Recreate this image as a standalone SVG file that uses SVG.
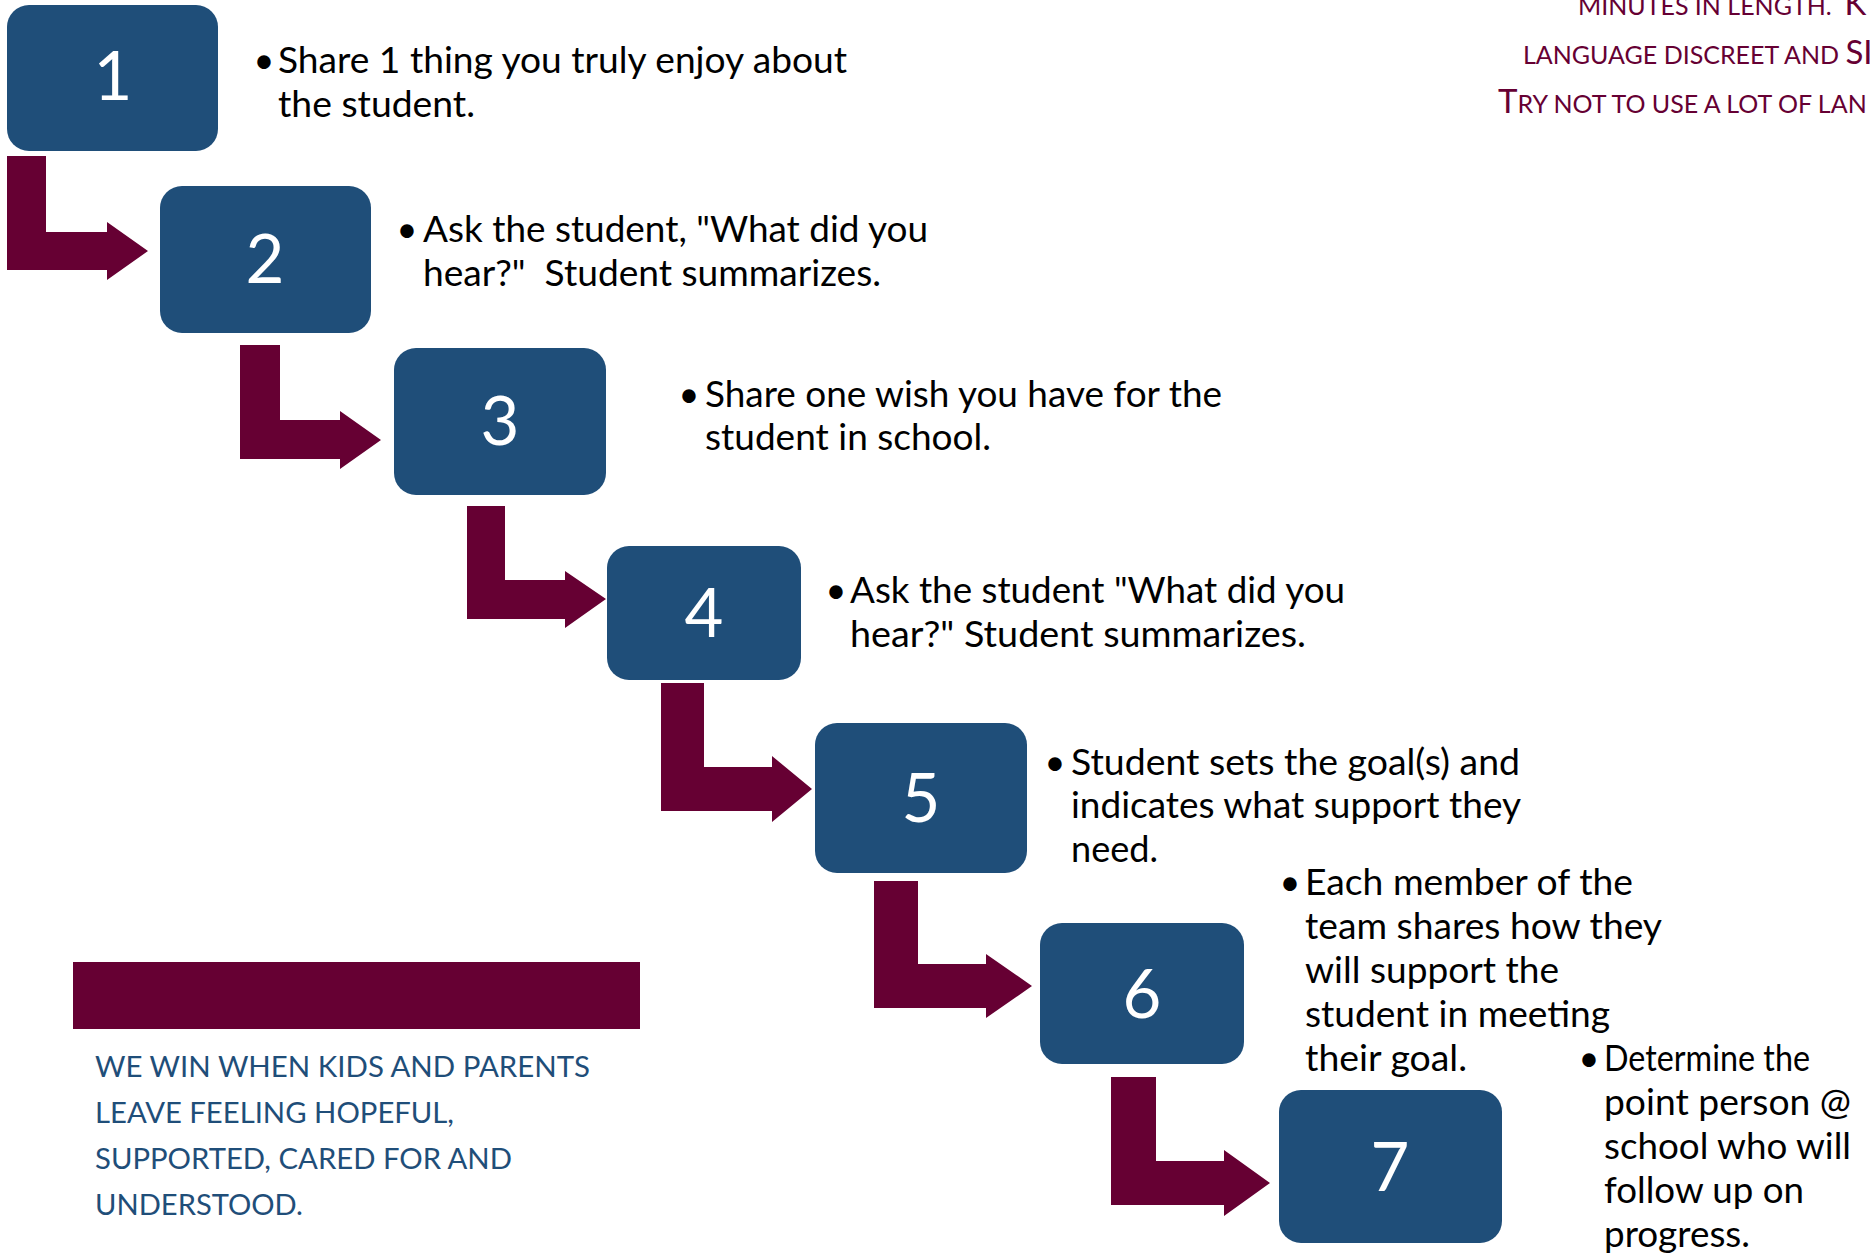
<svg xmlns="http://www.w3.org/2000/svg" width="1870" height="1256" viewBox="0 0 1870 1256">
<style>
.box{fill:#1F4E79}
.num{fill:#fff;font-family:Lato,"Open Sans",sans-serif;font-size:67px;text-anchor:middle}
.t{fill:#000;font-family:Lato,"Open Sans",sans-serif;font-size:36px;white-space:pre}
.b{fill:#000;font-family:Lato,"Open Sans",sans-serif;font-size:36px;text-anchor:middle}
.arr{fill:#660033}
.blue{fill:#1F4E79;font-family:Lato,"Open Sans",sans-serif;font-size:28px}
.mar{fill:#660033;font-family:Lato,"Open Sans",sans-serif;font-size:25px;white-space:pre}
.big{font-size:33px}
</style>
<rect width="1870" height="1256" fill="#fff"/>
<g id="connectors">
<path class="arr" d="M7,156 H46 V232 H107 V222 L148,251 L107,280 V270 H7 Z"/>
<path class="arr" d="M240,345 H280 V420 H340 V411 L381,440 L340,469 V459 H240 Z"/>
<path class="arr" d="M467,506 H505 V580 H565 V571 L606,599 L565,628 V619 H467 Z"/>
<path class="arr" d="M661,683 H704 V767 H772 V756 L812,789 L772,822 V811 H661 Z"/>
<path class="arr" d="M874,881 H918 V964 H986 V954 L1032,986 L986,1018 V1008 H874 Z"/>
<path class="arr" d="M1111,1077 H1156 V1161 H1224 V1150 L1270,1183 L1224,1216 V1205 H1111 Z"/>
</g>
<g id="node1">
<rect class="box" x="7" y="5" width="211" height="146" rx="22"/>
<text class="num" x="113" y="100">1</text>
<text class="b" x="264" y="73">•</text>
<text class="t" x="278" y="73" textLength="569" lengthAdjust="spacingAndGlyphs">Share 1 thing you truly enjoy about</text>
<text class="t" x="278" y="117" textLength="197" lengthAdjust="spacingAndGlyphs">the student.</text>
</g>
<g id="node2">
<rect class="box" x="160" y="186" width="211" height="147" rx="22"/>
<text class="num" x="265" y="283">2</text>
<text class="b" x="407" y="242">•</text>
<text class="t" x="423" y="242" textLength="505" lengthAdjust="spacingAndGlyphs">Ask the student, "What did you</text>
<text class="t" x="423" y="286" textLength="458" lengthAdjust="spacingAndGlyphs">hear?"  Student summarizes.</text>
</g>
<g id="node3">
<rect class="box" x="394" y="348" width="212" height="147" rx="22"/>
<text class="num" x="500" y="445">3</text>
<text class="b" x="689" y="407">•</text>
<text class="t" x="705" y="407" textLength="517" lengthAdjust="spacingAndGlyphs">Share one wish you have for the</text>
<text class="t" x="705" y="450" textLength="286" lengthAdjust="spacingAndGlyphs">student in school.</text>
</g>
<g id="node4">
<rect class="box" x="607" y="546" width="194" height="134" rx="22"/>
<text class="num" x="704" y="637">4</text>
<text class="b" x="836" y="603">•</text>
<text class="t" x="850" y="603" textLength="495" lengthAdjust="spacingAndGlyphs">Ask the student "What did you</text>
<text class="t" x="850" y="647" textLength="456" lengthAdjust="spacingAndGlyphs">hear?" Student summarizes.</text>
</g>
<g id="node5">
<rect class="box" x="815" y="723" width="212" height="150" rx="22"/>
<text class="num" x="921" y="822">5</text>
<text class="b" x="1055" y="775">•</text>
<text class="t" x="1071" y="775" textLength="449" lengthAdjust="spacingAndGlyphs">Student sets the goal(s) and</text>
<text class="t" x="1071" y="818" textLength="450" lengthAdjust="spacingAndGlyphs">indicates what support they</text>
<text class="t" x="1071" y="862" textLength="87" lengthAdjust="spacingAndGlyphs">need.</text>
</g>
<g id="node6">
<rect class="box" x="1040" y="923" width="204" height="141" rx="22"/>
<text class="num" x="1142" y="1018">6</text>
<text class="b" x="1290" y="895">•</text>
<text class="t" x="1305" y="895" textLength="328" lengthAdjust="spacingAndGlyphs">Each member of the</text>
<text class="t" x="1305" y="939" textLength="357" lengthAdjust="spacingAndGlyphs">team shares how they</text>
<text class="t" x="1305" y="983" textLength="254" lengthAdjust="spacingAndGlyphs">will support the</text>
<text class="t" x="1305" y="1027" textLength="305" lengthAdjust="spacingAndGlyphs">student in meeting</text>
<text class="t" x="1305" y="1071" textLength="162" lengthAdjust="spacingAndGlyphs">their goal.</text>
</g>
<g id="node7">
<rect class="box" x="1279" y="1090" width="223" height="153" rx="22"/>
<text class="num" x="1390" y="1191">7</text>
<text class="b" x="1589" y="1071">•</text>
<text class="t" x="1604" y="1071" textLength="206" lengthAdjust="spacingAndGlyphs">Determine the</text>
<text class="t" x="1604" y="1115" textLength="247" lengthAdjust="spacingAndGlyphs">point person @</text>
<text class="t" x="1604" y="1159" textLength="247" lengthAdjust="spacingAndGlyphs">school who will</text>
<text class="t" x="1604" y="1203" textLength="200" lengthAdjust="spacingAndGlyphs">follow up on</text>
<text class="t" x="1604" y="1247" textLength="146" lengthAdjust="spacingAndGlyphs">progress.</text>
</g>
<g id="motto">
<rect class="arr" x="73" y="962" width="567" height="67"/>
<text class="blue" x="95" y="1077" textLength="495" lengthAdjust="spacingAndGlyphs">WE WIN WHEN KIDS AND PARENTS</text>
<text class="blue" x="95" y="1123" textLength="359" lengthAdjust="spacingAndGlyphs">LEAVE FEELING HOPEFUL,</text>
<text class="blue" x="95" y="1169" textLength="417" lengthAdjust="spacingAndGlyphs">SUPPORTED, CARED FOR AND</text>
<text class="blue" x="95" y="1215" textLength="208" lengthAdjust="spacingAndGlyphs">UNDERSTOOD.</text>
</g>
<g id="note">
<text class="mar" x="1578" y="15">MINUTES IN LENGTH.  <tspan class="big">K</tspan></text>
<text class="mar" x="1523" y="64">LANGUAGE DISCREET AND <tspan class="big">SI</tspan></text>
<text class="mar" x="1498" y="113"><tspan class="big">T</tspan>RY NOT TO USE A LOT OF LAN</text>
</g>
</svg>
